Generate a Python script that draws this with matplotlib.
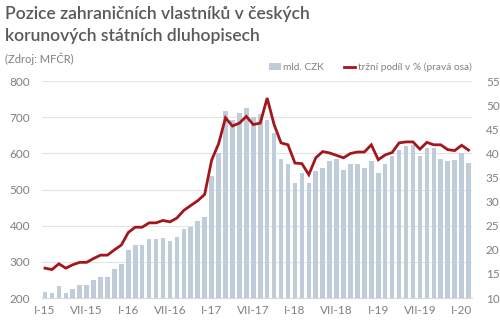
import matplotlib
matplotlib.use("Agg")
import matplotlib.pyplot as plt
from matplotlib.lines import Line2D
from matplotlib.patches import Patch
import numpy as np

months = ["I", "II", "III", "IV", "V", "VI", "VII", "VIII", "IX", "X", "XI", "XII"]
periods = [f"{m}-{y}" for y in ["15", "16", "17", "18", "19"] for m in months] + ["I-20", "II-20"]

volume_bn_czk = [
    217, 214, 232, 214, 226, 235, 235, 251, 257, 258, 281, 295,
    333, 348, 348, 362, 364, 366, 359, 369, 390, 397, 412, 424,
    539, 601, 717, 693, 713, 727, 702, 710, 694, 658, 585, 571,
    519, 546, 517, 551, 561, 580, 584, 554, 570, 570, 560, 580,
    546, 572, 593, 609, 620, 623, 593, 614, 614, 584, 579, 582,
    602, 574,
]
share_pct = [
    16.2, 15.9, 17.1, 16.2, 16.9, 17.4, 17.4, 18.2, 18.9, 18.9, 20.0, 21.0,
    23.6, 24.7, 24.7, 25.6, 25.6, 26.1, 25.8, 26.6, 28.2, 29.2, 30.2, 31.5,
    38.6, 42.0, 47.4, 45.7, 46.3, 47.7, 46.0, 46.3, 51.5, 46.0, 42.2, 41.8,
    38.0, 37.9, 35.6, 39.1, 40.4, 40.1, 39.6, 39.1, 40.0, 40.3, 40.3, 41.8,
    38.7, 39.7, 40.2, 42.2, 42.4, 42.4, 40.9, 42.3, 41.8, 41.8, 40.8, 40.6,
    41.7, 40.7,
]

title = "Pozice zahraničních vlastníků v českých\nkorunových státních dluhopisech"
subtitle = "(Zdroj: MFČR)"
bar_label = "mld. CZK"
line_label = "tržní podíl v % (pravá osa)"

plt.rcParams['font.family'] = ['Lato', 'DejaVu Sans']

bar_color = "#BFCCDA"
line_color = "#A3161B"
tick_color = "#808080"
grid_color = "#E3E3E3"

fig = plt.figure(figsize=(5.0, 3.29), dpi=100)
ax = fig.add_axes([0.083, 0.0942, 0.861, 0.659])
ax2 = ax.twinx()

x = np.arange(len(periods))
ax.bar(x, volume_bn_czk, width=0.66, color=bar_color, zorder=2)
ax2.plot(x, share_pct, color=line_color, lw=2.0, zorder=3, solid_joinstyle='miter')

ax.set_xlim(-0.5, len(periods) - 0.5)
ax.set_ylim(200, 800)
ax.set_yticks(range(200, 801, 100))
ax2.set_ylim(10, 55)
ax2.set_yticks(range(10, 56, 5))

ax.yaxis.grid(True, color=grid_color, lw=0.8, zorder=0)
ax.set_axisbelow(True)

tick_pos = list(range(0, len(periods), 6))
ax.set_xticks(tick_pos)
ax.set_xticklabels([periods[i] for i in tick_pos])

for a in (ax, ax2):
    for s in a.spines.values():
        s.set_visible(False)
ax.spines['bottom'].set_visible(True)
ax.spines['bottom'].set_color("#D9D9D9")

ax.tick_params(axis='y', length=0, labelsize=8.5, labelcolor=tick_color, pad=8)
ax2.tick_params(axis='y', length=0, labelsize=8.5, labelcolor=tick_color, pad=10)
ax.tick_params(axis='x', length=0, labelsize=8.5, labelcolor=tick_color, pad=5)

fig.text(0.01, 0.982, title, fontsize=12.6, color="#595959", va='top', ha='left',
         fontweight='semibold', linespacing=1.45)
fig.text(0.01, 0.84, subtitle, fontsize=8, color="#7F7F7F", va='top', ha='left')

handles = [Patch(facecolor=bar_color, edgecolor='none', label=bar_label),
           Line2D([0], [0], color=line_color, lw=2.0, label=line_label)]
leg = fig.legend(handles=handles, loc='center right', bbox_to_anchor=(0.962, 0.795),
                 ncol=2, frameon=False, fontsize=7.3, handlelength=1.1, handleheight=0.6,
                 handletextpad=0.25, columnspacing=2.0)
for t in leg.get_texts():
    t.set_color(tick_color)

fig.savefig("out.png", dpi=100)
